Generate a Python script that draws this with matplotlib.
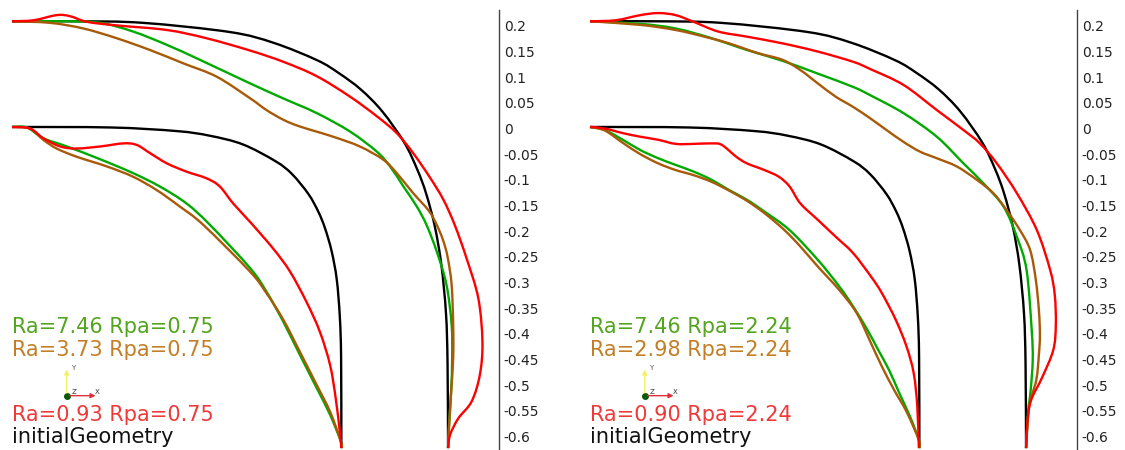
import matplotlib
matplotlib.use('Agg')
import matplotlib.pyplot as plt
from matplotlib.path import Path
from matplotlib.patches import PathPatch

# initial geometry (same in both runs): outer and inner wall of the bend
initial_outer = [(0.000, 0.209), (0.127, 0.209), (0.255, 0.206), (0.425, 0.188), (0.510, 0.167),
                 (0.595, 0.133), (0.637, 0.108), (0.680, 0.076), (0.722, 0.033), (0.765, -0.028),
                 (0.790, -0.080), (0.807, -0.126), (0.824, -0.190), (0.837, -0.266), (0.846, -0.361),
                 (0.849, -0.458), (0.850, -0.623)]
initial_inner = [(0.000, 0.003), (0.193, 0.002), (0.321, -0.005), (0.385, -0.014), (0.450, -0.031),
                 (0.514, -0.064), (0.546, -0.089), (0.578, -0.128), (0.597, -0.162), (0.610, -0.194),
                 (0.623, -0.239), (0.633, -0.294), (0.639, -0.367), (0.6415, -0.447), (0.642, -0.623)]

# Rpa = 0.75 run
a_green_outer = [(0.000, 0.209), (0.107, 0.209), (0.172, 0.206), (0.236, 0.189), (0.302, 0.163),
                 (0.366, 0.134), (0.464, 0.088), (0.528, 0.059), (0.594, 0.030), (0.659, -0.006),
                 (0.711, -0.045), (0.737, -0.074), (0.763, -0.113), (0.789, -0.152), (0.808, -0.188),
                 (0.828, -0.240), (0.847, -0.305), (0.857, -0.383), (0.858, -0.447), (0.856, -0.513),
                 (0.852, -0.578), (0.850, -0.623)]
a_brown_outer = [(0.000, 0.209), (0.074, 0.206), (0.139, 0.195), (0.204, 0.176), (0.269, 0.153),
                 (0.334, 0.127), (0.399, 0.101), (0.464, 0.059), (0.496, 0.036), (0.529, 0.017),
                 (0.561, 0.004), (0.626, -0.016), (0.678, -0.035), (0.724, -0.061), (0.750, -0.087),
                 (0.782, -0.126), (0.813, -0.161), (0.828, -0.188), (0.840, -0.217), (0.849, -0.250),
                 (0.857, -0.305), (0.860, -0.383), (0.860, -0.447), (0.856, -0.513), (0.852, -0.578),
                 (0.850, -0.623)]
a_red_outer = [(0.000, 0.209), (0.042, 0.211), (0.087, 0.221), (0.113, 0.219), (0.146, 0.208),
               (0.204, 0.201), (0.302, 0.192), (0.379, 0.176), (0.464, 0.152), (0.529, 0.130),
               (0.594, 0.102), (0.659, 0.062), (0.711, 0.024), (0.750, -0.009), (0.782, -0.048),
               (0.815, -0.096), (0.841, -0.139), (0.863, -0.188), (0.886, -0.253), (0.909, -0.331),
               (0.917, -0.416), (0.912, -0.480), (0.896, -0.532), (0.870, -0.565), (0.854, -0.597),
               (0.850, -0.623)]
a_green_inner = [(0.000, 0.003), (0.029, 0.002), (0.061, -0.019), (0.107, -0.035), (0.172, -0.060),
                 (0.236, -0.087), (0.288, -0.113), (0.340, -0.146), (0.386, -0.188), (0.464, -0.272),
                 (0.496, -0.318), (0.529, -0.377), (0.561, -0.441), (0.594, -0.506), (0.620, -0.558),
                 (0.641, -0.610), (0.642, -0.623)]
a_brown_inner = [(0.000, 0.003), (0.035, 0.000), (0.061, -0.022), (0.087, -0.039), (0.126, -0.055),
                 (0.185, -0.074), (0.236, -0.094), (0.282, -0.120), (0.327, -0.152), (0.373, -0.188),
                 (0.464, -0.279), (0.496, -0.321), (0.529, -0.373), (0.561, -0.435), (0.594, -0.500),
                 (0.620, -0.552), (0.641, -0.610), (0.642, -0.623)]
a_red_inner = [(0.000, 0.003), (0.035, 0.000), (0.061, -0.019), (0.094, -0.035), (0.126, -0.039),
               (0.172, -0.035), (0.217, -0.029), (0.243, -0.032), (0.269, -0.048), (0.302, -0.068),
               (0.340, -0.084), (0.379, -0.097), (0.405, -0.113), (0.431, -0.146), (0.464, -0.182),
               (0.509, -0.234), (0.542, -0.279), (0.574, -0.338), (0.600, -0.396), (0.620, -0.461),
               (0.631, -0.526), (0.639, -0.591), (0.642, -0.623)]

# Rpa = 2.24 run
b_green_outer = [(0.000, 0.209), (0.098, 0.204), (0.167, 0.195), (0.237, 0.176), (0.306, 0.153),
                 (0.375, 0.132), (0.444, 0.107), (0.513, 0.081), (0.546, 0.065), (0.611, 0.030),
                 (0.676, -0.016), (0.728, -0.068), (0.767, -0.107), (0.806, -0.152), (0.832, -0.211),
                 (0.851, -0.276), (0.861, -0.393), (0.863, -0.451), (0.859, -0.510), (0.854, -0.553),
                 (0.850, -0.623)]
b_brown_outer = [(0.000, 0.209), (0.098, 0.202), (0.167, 0.192), (0.223, 0.179), (0.271, 0.166),
                 (0.327, 0.147), (0.375, 0.134), (0.410, 0.114), (0.444, 0.088), (0.479, 0.062),
                 (0.513, 0.042), (0.546, 0.020), (0.578, -0.003), (0.611, -0.026), (0.643, -0.045),
                 (0.676, -0.058), (0.715, -0.074), (0.754, -0.100), (0.786, -0.126), (0.812, -0.159),
                 (0.838, -0.198), (0.858, -0.237), (0.869, -0.295), (0.875, -0.354), (0.877, -0.403),
                 (0.875, -0.441), (0.870, -0.490), (0.856, -0.542), (0.850, -0.623)]
b_red_outer = [(0.000, 0.209), (0.050, 0.211), (0.098, 0.221), (0.133, 0.225), (0.167, 0.221),
               (0.202, 0.208), (0.250, 0.189), (0.306, 0.179), (0.375, 0.166), (0.444, 0.150),
               (0.513, 0.130), (0.546, 0.116), (0.611, 0.085), (0.676, 0.036), (0.728, -0.003),
               (0.760, -0.029), (0.793, -0.068), (0.832, -0.126), (0.871, -0.198), (0.897, -0.276),
               (0.906, -0.325), (0.908, -0.383), (0.903, -0.432), (0.881, -0.486), (0.860, -0.529),
               (0.853, -0.568), (0.850, -0.623)]
b_green_inner = [(0.000, 0.003), (0.029, -0.003), (0.064, -0.022), (0.098, -0.042), (0.133, -0.058),
                 (0.167, -0.071), (0.202, -0.084), (0.237, -0.100), (0.271, -0.120), (0.306, -0.139),
                 (0.340, -0.162), (0.389, -0.198), (0.444, -0.256), (0.486, -0.308), (0.513, -0.347),
                 (0.541, -0.393), (0.562, -0.432), (0.583, -0.471), (0.603, -0.516), (0.624, -0.562),
                 (0.641, -0.607), (0.642, -0.623)]
b_brown_inner = [(0.000, 0.003), (0.029, -0.004), (0.064, -0.028), (0.098, -0.050), (0.133, -0.068),
                 (0.167, -0.081), (0.202, -0.091), (0.237, -0.104), (0.271, -0.121), (0.306, -0.141),
                 (0.340, -0.165), (0.379, -0.198), (0.410, -0.230), (0.444, -0.269), (0.486, -0.315),
                 (0.520, -0.360), (0.548, -0.419), (0.569, -0.464), (0.593, -0.510), (0.617, -0.552),
                 (0.641, -0.607), (0.642, -0.623)]
b_red_inner = [(0.000, 0.003), (0.029, 0.000), (0.064, -0.009), (0.098, -0.016), (0.133, -0.022),
               (0.167, -0.030), (0.202, -0.030), (0.237, -0.029), (0.257, -0.032), (0.285, -0.055),
               (0.306, -0.068), (0.340, -0.081), (0.368, -0.094), (0.389, -0.113), (0.410, -0.146),
               (0.444, -0.178), (0.479, -0.211), (0.513, -0.243), (0.548, -0.289), (0.569, -0.321),
               (0.596, -0.373), (0.617, -0.425), (0.631, -0.477), (0.638, -0.542), (0.641, -0.623)]

labels_a = ['Ra=7.46 Rpa=0.75', 'Ra=3.73 Rpa=0.75', 'Ra=0.93 Rpa=0.75', 'initialGeometry']
labels_b = ['Ra=7.46 Rpa=2.24', 'Ra=2.98 Rpa=2.24', 'Ra=0.90 Rpa=2.24', 'initialGeometry']

ticks = [0.2, 0.15, 0.1, 0.05, 0, -0.05, -0.1, -0.15, -0.2, -0.25, -0.3, -0.35, -0.4,
         -0.45, -0.5, -0.55, -0.6]
tick_labels = ['0.2', '0.15', '0.1', '0.05', '0', '-0.05', '-0.1', '-0.15', '-0.2', '-0.25',
               '-0.3', '-0.35', '-0.4', '-0.45', '-0.5', '-0.55', '-0.6']

line_colors = ['#00aa00', '#a85a08', '#ff0000', '#000000']
text_colors = ['#52a51c', '#c47e26', '#f03a3a', '#111111']

panels = [
    ([a_green_outer, a_green_inner], [a_brown_outer, a_brown_inner], [a_red_outer, a_red_inner], labels_a),
    ([b_green_outer, b_green_inner], [b_brown_outer, b_brown_inner], [b_red_outer, b_red_inner], labels_b),
]


def smooth_path(pts):
    # Catmull-Rom through the sampled points, written as cubic Bezier segments
    verts = [pts[0]]
    codes = [Path.MOVETO]
    n = len(pts)
    for i in range(n - 1):
        p0 = pts[max(i - 1, 0)]
        p1 = pts[i]
        p2 = pts[i + 1]
        p3 = pts[min(i + 2, n - 1)]
        c1 = (p1[0] + (p2[0] - p0[0]) / 6, p1[1] + (p2[1] - p0[1]) / 6)
        c2 = (p2[0] - (p3[0] - p1[0]) / 6, p2[1] - (p3[1] - p1[1]) / 6)
        verts += [c1, c2, p2]
        codes += [Path.CURVE4] * 3
    return Path(verts, codes)


W, H = 1125, 450
fig = plt.figure(figsize=(W / 100, H / 100), dpi=100)

for i, (green, brown, red, labels) in enumerate(panels):
    left = [0, 578][i]
    ax = fig.add_axes([left / W, 0, 499 / W, 1])
    ax.set_xlim(-0.0234, 0.9493)
    ax.set_ylim(-0.6267, 0.2505)
    ax.patch.set_alpha(0)

    # black first, the deformed walls on top
    for curves, col in [([initial_outer, initial_inner], line_colors[3]), (green, line_colors[0]),
                        (brown, line_colors[1]), (red, line_colors[2])]:
        for pts in curves:
            ax.add_patch(PathPatch(smooth_path(pts), facecolor='none', edgecolor=col,
                                   lw=1.7, joinstyle='round', capstyle='butt'))

    for s in ['top', 'left', 'bottom']:
        ax.spines[s].set_visible(False)
    ax.spines['right'].set_bounds(-0.627, 0.231)
    ax.spines['right'].set_color('#444444')
    ax.spines['right'].set_linewidth(1.0)
    ax.set_xticks([])
    ax.yaxis.tick_right()
    ax.set_yticks(ticks)
    ax.set_yticklabels(tick_labels)
    ax.tick_params(axis='y', length=0, pad=3.5, labelsize=10, labelcolor='#222222')

    # legend text
    for lab, col, yy in zip(labels, text_colors, [0.273, 0.222, 0.078, 0.029]):
        ax.text(0.024, yy, lab, color=col, fontsize=15, ha='left', va='center',
                transform=ax.transAxes)

    # small orientation triad
    ox, oy = 0.1337, 0.1207
    ax.annotate('', xy=(ox, 0.185), xytext=(ox, oy), xycoords='axes fraction',
                arrowprops=dict(arrowstyle='-|>', color='#f2f060', lw=1.0, mutation_scale=7))
    ax.annotate('', xy=(0.197, oy), xytext=(ox, oy), xycoords='axes fraction',
                arrowprops=dict(arrowstyle='-|>', color='#e0303a', lw=1.0, mutation_scale=7))
    ax.plot([ox], [oy], 'o', color='#0a5a0a', ms=4, transform=ax.transAxes)
    ax.text(ox + 0.008, 0.183, 'Y', fontsize=5, color='#555555', transform=ax.transAxes, va='center')
    ax.text(ox + 0.010, 0.130, 'Z', fontsize=5, color='#333333', transform=ax.transAxes, va='center')
    ax.text(0.190, 0.130, 'X', fontsize=5, color='#333333', transform=ax.transAxes, va='center')

fig.savefig('out.png', dpi=100)
